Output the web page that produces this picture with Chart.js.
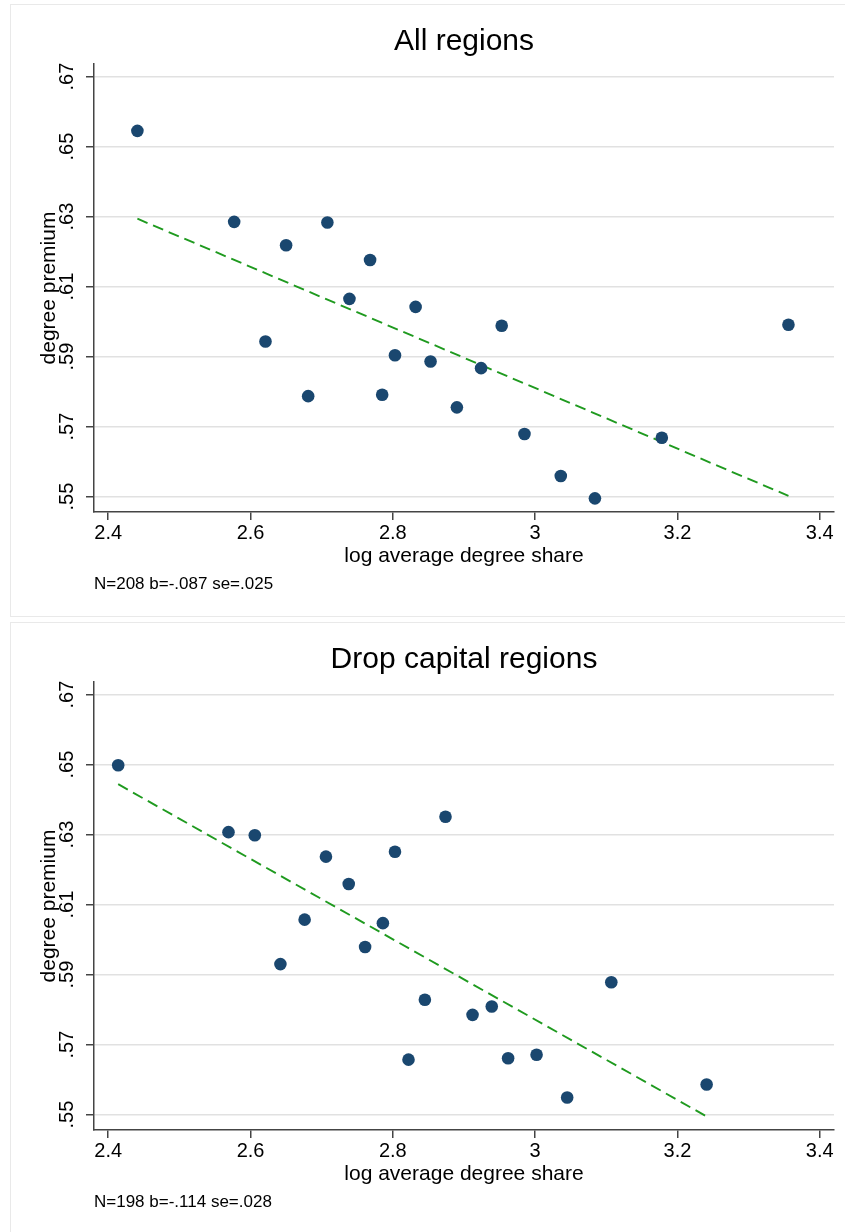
<!DOCTYPE html>
<html>
<head>
<meta charset="utf-8">
<script src="https://cdn.jsdelivr.net/npm/chart.js@4.4.1/dist/chart.umd.min.js"></script>
<style>
  body { margin: 0; background: #fff; }
  .panel { position: absolute; left: 10px; width: 845px; height: 613px; border: 1.5px solid #e9e9e9; border-right: none; box-sizing: border-box; }
  canvas { position: absolute; left: 0; }
</style>
</head>
<body>
<div class="panel" style="top:4px"></div>
<div class="panel" style="top:622px"></div>
<canvas id="chartAll" width="845" height="616" style="top:0"></canvas>
<canvas id="chartDrop" width="845" height="616" style="top:618px"></canvas>
<script>
// tick labels
const xTicks = [2.4, 2.6, 2.8, 3.0, 3.2, 3.4];
const yTicks = [0.55, 0.57, 0.59, 0.61, 0.63, 0.65, 0.67];

// All regions
const allX = [2.441, 2.577, 2.621, 2.650, 2.681, 2.708, 2.739, 2.768, 2.785, 2.803,
              2.832, 2.853, 2.890, 2.924, 2.953, 2.985, 3.036, 3.084, 3.178, 3.356];
const allY = [0.6545, 0.6285, 0.5943, 0.6218, 0.5787, 0.6283, 0.6065, 0.6176, 0.5791, 0.5904,
              0.6042, 0.5886, 0.5755, 0.5867, 0.5988, 0.5679, 0.5559, 0.5495, 0.5668, 0.5991];
const allFitX = [2.441, 3.356];
const allFitY = [0.6294, 0.5502];

// Drop capital regions
const dropX = [2.414, 2.569, 2.606, 2.642, 2.676, 2.706, 2.738, 2.761, 2.786, 2.803,
               2.822, 2.845, 2.874, 2.912, 2.939, 2.962, 3.002, 3.045, 3.107, 3.241];
const dropY = [0.6498, 0.6307, 0.6298, 0.5930, 0.6057, 0.6237, 0.6159, 0.5979, 0.6047, 0.6251,
               0.5657, 0.5828, 0.6351, 0.5785, 0.5809, 0.5661, 0.5671, 0.5549, 0.5878, 0.5586];
const dropFitX = [2.414, 3.239];
const dropFitY = [0.6444, 0.5497];

Chart.defaults.font.family = "'Liberation Sans', Arial, sans-serif";
Chart.defaults.color = '#000';

const axisColor = '#444';
const gridColor = '#e1e1e1';

function toPoints(xs, ys) {
    return xs.map((x, i) => ({ x: x, y: ys[i] }));
}

function makeChart(id, title, note, xs, ys, fitX, fitY) {
    const ctx = document.getElementById(id).getContext('2d');
    return new Chart(ctx, {
        type: 'scatter',
        data: {
            datasets: [
                {
                    data: toPoints(xs, ys),
                    backgroundColor: '#1a476f',
                    borderWidth: 0,
                    pointRadius: 6.3,
                    pointHoverRadius: 6.3
                },
                {
                    type: 'line',
                    data: toPoints(fitX, fitY),
                    borderColor: '#1f9a1f',
                    borderWidth: 1.9,
                    borderDash: [11, 6],
                    pointRadius: 0,
                    fill: false
                }
            ]
        },
        options: {
            responsive: false,
            animation: false,
            devicePixelRatio: 1,
            layout: { padding: { left: 0, right: 11, top: 0, bottom: 0 } },
            plugins: {
                legend: { display: false },
                tooltip: { enabled: false },
                title: {
                    display: true,
                    text: title,
                    fullSize: false,
                    font: { size: 30, weight: 'normal' },
                    color: '#000',
                    padding: { top: 23.3, bottom: 4.7 }
                },
                subtitle: {
                    display: true,
                    text: note,
                    position: 'bottom',
                    align: 'start',
                    fullSize: false,
                    font: { size: 17, weight: 'normal' },
                    color: '#000',
                    padding: { top: 0, bottom: 21.4 }
                }
            },
            scales: {
                x: {
                    type: 'linear',
                    min: 2.38,
                    max: 3.42,
                    afterBuildTicks: s => { s.ticks = xTicks.map(v => ({ value: v })); },
                    afterFit: s => { s.height = 62.2; },
                    ticks: {
                        font: { size: 20 },
                        color: '#000',
                        padding: 1,
                        maxRotation: 0,
                        callback: v => String(+v.toFixed(1))
                    },
                    grid: { drawOnChartArea: false, tickColor: axisColor, tickLength: 8, lineWidth: 1.5 },
                    border: { color: axisColor, width: 1.5 },
                    title: {
                        display: true,
                        text: 'log average degree share',
                        font: { size: 21 },
                        color: '#000',
                        padding: { top: 0, bottom: 5.6 }
                    }
                },
                y: {
                    min: 0.5456,
                    max: 0.6736,
                    afterBuildTicks: s => { s.ticks = yTicks.map(v => ({ value: v })); },
                    afterFit: s => { s.width = 94; },
                    ticks: {
                        font: { size: 20 },
                        color: '#000',
                        minRotation: 90,
                        maxRotation: 90,
                        crossAlign: 'center',
                        padding: 5,
                        callback: v => v.toFixed(2).replace(/^0/, '')
                    },
                    grid: { color: gridColor, lineWidth: 1.5, tickColor: axisColor, tickLength: 8 },
                    border: { color: axisColor, width: 1.5 },
                    title: {
                        display: true,
                        text: 'degree premium',
                        font: { size: 21 },
                        color: '#000',
                        padding: { top: 37, bottom: 0 }
                    }
                }
            }
        }
    });
}

makeChart('chartAll', 'All regions', 'N=208 b=-.087 se=.025', allX, allY, allFitX, allFitY);
makeChart('chartDrop', 'Drop capital regions', 'N=198 b=-.114 se=.028', dropX, dropY, dropFitX, dropFitY);
</script>
</body>
</html>
